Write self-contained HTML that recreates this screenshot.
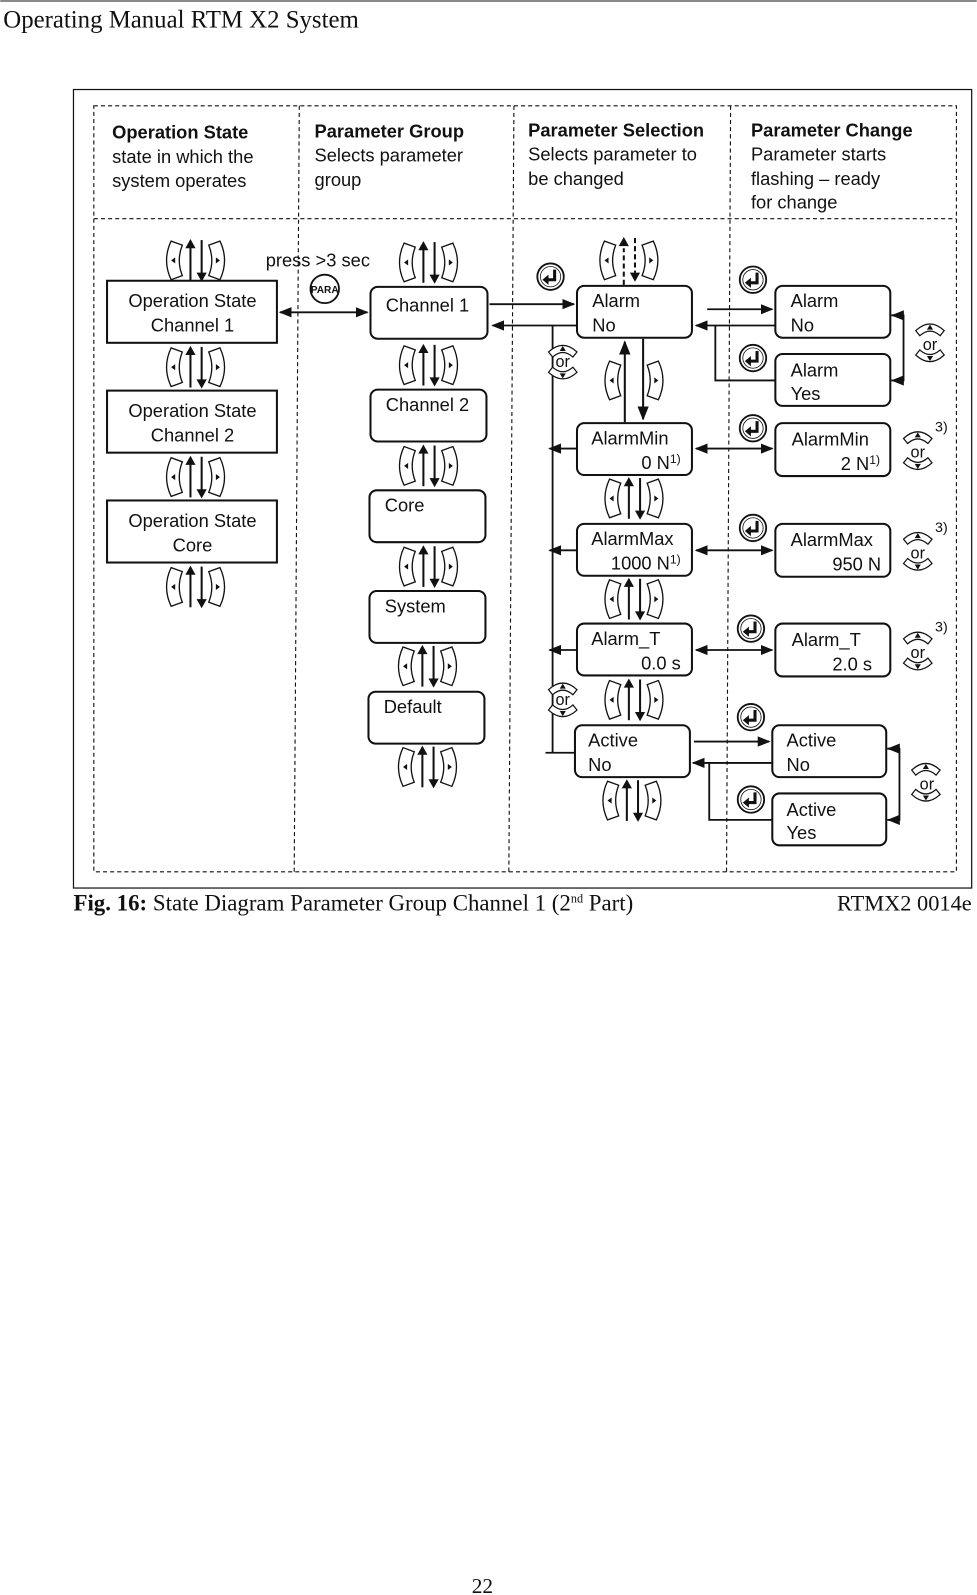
<!DOCTYPE html>
<html><head><meta charset="utf-8"><style>
html,body{margin:0;padding:0;background:#fff}
svg{display:block}
text{font-family:"Liberation Sans",sans-serif;fill:#111}
.s{font-family:"Liberation Serif",serif}
</style></head><body>
<svg width="977" height="1595" viewBox="0 0 960 1568" xmlns="http://www.w3.org/2000/svg">
<defs>
<marker id="ah" viewBox="0 0 10 10" refX="9" refY="5" markerWidth="7" markerHeight="7" orient="auto-start-reverse"><path d="M0,1 L10,5 L0,9 Z" fill="#111"/></marker>
<g id="lp"><path d="M-13,-15 Q-19,0 -13,15 L-24,19 Q-33,0 -24,-19 Z" fill="#fff" stroke="#111" stroke-width="1.3"/><path d="M-20,-3 L-24,0 L-20,3 Z" fill="#111"/></g>
<g id="rp"><path d="M13,-15 Q19,0 13,15 L24,19 Q33,0 24,-19 Z" fill="#fff" stroke="#111" stroke-width="1.3"/><path d="M20,-3 L24,0 L20,3 Z" fill="#111"/></g>
<g id="nav">
<use href="#lp"/><use href="#rp"/>
<line x1="-5" y1="20" x2="-5" y2="-14" stroke="#111" stroke-width="2"/>
<path d="M-10,-12 L-5,-21 L0,-12 Z" fill="#111"/>
<line x1="6" y1="-20" x2="6" y2="14" stroke="#111" stroke-width="2"/>
<path d="M1,12 L6,21 L11,12 Z" fill="#111"/>
</g>
<g id="ent"><circle r="13" fill="#fff" stroke="#111" stroke-width="1.8"/><circle r="10" fill="none" stroke="#111" stroke-width="0.8"/><path d="M4,-7 L4,3 L-3,3" fill="none" stroke="#111" stroke-width="3"/><path d="M-2,-2 L-8,3 L-2,8Z" fill="#111"/></g>
<g id="up"><path d="M-14,5 Q0,-8 14,5 L10,10 Q0,1 -10,10 Z" fill="#fff" stroke="#111" stroke-width="1.2"/><path d="M-3,4 L0,-1 L3,4Z" fill="#111"/></g>
<g id="dn"><path d="M-14,-5 Q0,8 14,-5 L10,-10 Q0,-1 -10,-10 Z" fill="#fff" stroke="#111" stroke-width="1.2"/><path d="M-3,-4 L0,1 L3,-4Z" fill="#111"/></g>
</defs>

<text x="3" y="27" class="s" font-size="24.4">Operating Manual RTM X2 System</text>
<line x1="0" y1="1" x2="960" y2="1" stroke="#111" stroke-width="1"/>

<rect x="72" y="88" width="883" height="785" fill="none" stroke="#111" stroke-width="1.2"/>
<g fill="none" stroke="#111" stroke-width="1.1" stroke-dasharray="4,3">
<rect x="92" y="104" width="848" height="753"/>
<line x1="92" y1="215" x2="940" y2="215"/>
<line x1="294" y1="104" x2="289" y2="857"/>
<line x1="505" y1="104" x2="500" y2="857"/>
<line x1="718" y1="104" x2="714" y2="857"/>
</g>

<g font-size="18">
<text x="110" y="136" font-weight="bold">Operation State</text>
<text x="110" y="160">state in which the</text>
<text x="110" y="184">system operates</text>
<text x="309" y="135" font-weight="bold">Parameter Group</text>
<text x="309" y="159">Selects parameter</text>
<text x="309" y="183">group</text>
<text x="519" y="134" font-weight="bold">Parameter Selection</text>
<text x="519" y="158">Selects parameter to</text>
<text x="519" y="182">be changed</text>
<text x="738" y="134" font-weight="bold">Parameter Change</text>
<text x="738" y="158">Parameter starts</text>
<text x="738" y="182">flashing – ready</text>
<text x="738" y="205">for change</text>
</g>

<g fill="#fff" stroke="#111" stroke-width="2">
<rect x="105" y="276" width="167" height="61"/>
<rect x="105" y="384" width="167" height="61"/>
<rect x="105" y="492" width="167" height="61"/>
</g>
<g font-size="18" text-anchor="middle">
<text x="189" y="302">Operation State</text><text x="189" y="326">Channel 1</text>
<text x="189" y="410">Operation State</text><text x="189" y="434">Channel 2</text>
<text x="189" y="518">Operation State</text><text x="189" y="542">Core</text>
</g>
<use href="#nav" x="192" y="256"/><use href="#nav" x="192" y="361"/><use href="#nav" x="192" y="469"/><use href="#nav" x="192" y="577"/>

<text x="261" y="262" font-size="18">press &gt;3 sec</text>
<circle cx="319" cy="284" r="14" fill="#fff" stroke="#111" stroke-width="1.8"/>
<text x="319" y="288" font-size="10" font-weight="bold" text-anchor="middle">PARA</text>
<line x1="275" y1="307" x2="361" y2="307" stroke="#111" stroke-width="1.8" marker-start="url(#ah)" marker-end="url(#ah)"/>

<g fill="#fff" stroke="#111" stroke-width="2">
<rect x="364" y="282" width="115" height="51" rx="7"/>
<rect x="364" y="383" width="114" height="51" rx="7"/>
<rect x="363" y="482" width="114" height="51" rx="7"/>
<rect x="363" y="581" width="114" height="51" rx="7"/>
<rect x="362" y="680" width="114" height="51" rx="7"/>
</g>
<g font-size="18">
<text x="379" y="306">Channel 1</text>
<text x="379" y="404">Channel 2</text>
<text x="378" y="503">Core</text>
<text x="378" y="602">System</text>
<text x="377" y="701">Default</text>
</g>
<use href="#nav" x="421" y="258"/><use href="#nav" x="421" y="359"/><use href="#nav" x="421" y="458"/><use href="#nav" x="421" y="557"/><use href="#nav" x="420" y="655"/><use href="#nav" x="420" y="754"/>

<g fill="#fff" stroke="#111" stroke-width="2">
<rect x="567" y="281" width="113" height="51" rx="7"/>
<rect x="567" y="416" width="113" height="51" rx="7"/>
<rect x="567" y="515" width="113" height="51" rx="7"/>
<rect x="567" y="613" width="113" height="51" rx="7"/>
<rect x="565" y="713" width="113" height="51" rx="7"/>
</g>
<g font-size="18">
<text x="582" y="302">Alarm</text><text x="582" y="326">No</text>
<text x="581" y="437">AlarmMin</text><text x="669" y="461" text-anchor="end">0 N<tspan font-size="12" dy="-6">1)</tspan></text>
<text x="581" y="536">AlarmMax</text><text x="669" y="560" text-anchor="end">1000 N<tspan font-size="12" dy="-6">1)</tspan></text>
<text x="581" y="634">Alarm_T</text><text x="669" y="658" text-anchor="end">0.0 s</text>
<text x="578" y="734">Active</text><text x="578" y="758">No</text>
</g>
<use href="#lp" x="618" y="256"/><use href="#rp" x="618" y="256"/>
<line x1="613" y1="280" x2="613" y2="244" stroke="#111" stroke-width="2" stroke-dasharray="5,3"/>
<path d="M608,242 L613,233 L618,242Z" fill="#111"/>
<line x1="624" y1="234" x2="624" y2="268" stroke="#111" stroke-width="2" stroke-dasharray="5,3"/>
<path d="M619,268 L624,277 L629,268Z" fill="#111"/>
<line x1="614" y1="415" x2="614" y2="336" stroke="#111" stroke-width="2" marker-end="url(#ah)"/>
<line x1="632" y1="333" x2="632" y2="412" stroke="#111" stroke-width="2" marker-end="url(#ah)"/>
<use href="#lp" x="623" y="374"/><use href="#rp" x="623" y="374"/>
<use href="#nav" x="623" y="490"/><use href="#nav" x="623" y="589"/><use href="#nav" x="623" y="688"/><use href="#nav" x="621" y="787"/>

<use href="#ent" x="541" y="272"/>
<line x1="481" y1="299" x2="564" y2="299" stroke="#111" stroke-width="1.8" marker-end="url(#ah)"/>
<line x1="567" y1="320" x2="484" y2="320" stroke="#111" stroke-width="1.8" marker-end="url(#ah)"/>
<line x1="543" y1="320" x2="543" y2="740" stroke="#111" stroke-width="1.8"/>
<line x1="567" y1="441" x2="540" y2="441" stroke="#111" stroke-width="1.8" marker-end="url(#ah)"/>
<line x1="567" y1="541" x2="540" y2="541" stroke="#111" stroke-width="1.8" marker-end="url(#ah)"/>
<line x1="567" y1="639" x2="540" y2="639" stroke="#111" stroke-width="1.8" marker-end="url(#ah)"/>
<line x1="565" y1="740" x2="536" y2="740" stroke="#111" stroke-width="1.8"/>
<use href="#up" x="553" y="341"/><text x="553" y="361" font-size="16" text-anchor="middle">or</text><use href="#dn" x="553" y="371"/>
<use href="#up" x="553" y="673"/><text x="553" y="693" font-size="16" text-anchor="middle">or</text><use href="#dn" x="553" y="703"/>

<g fill="#fff" stroke="#111" stroke-width="2">
<rect x="762" y="281" width="113" height="51" rx="7"/>
<rect x="762" y="348" width="113" height="51" rx="7"/>
<rect x="762" y="416" width="113" height="52" rx="7"/>
<rect x="762" y="515" width="113" height="52" rx="7"/>
<rect x="762" y="613" width="113" height="52" rx="7"/>
<rect x="759" y="713" width="112" height="51" rx="7"/>
<rect x="759" y="780" width="112" height="51" rx="7"/>
</g>
<g font-size="18">
<text x="777" y="302">Alarm</text><text x="777" y="326">No</text>
<text x="777" y="370">Alarm</text><text x="777" y="393">Yes</text>
<text x="778" y="438">AlarmMin</text><text x="865" y="462" text-anchor="end">2 N<tspan font-size="12" dy="-6">1)</tspan></text>
<text x="777" y="537">AlarmMax</text><text x="866" y="561" text-anchor="end">950 N</text>
<text x="778" y="635">Alarm_T</text><text x="857" y="659" text-anchor="end">2.0 s</text>
<text x="773" y="734">Active</text><text x="773" y="758">No</text>
<text x="773" y="802">Active</text><text x="773" y="825">Yes</text>
</g>
<use href="#ent" x="740" y="275"/><use href="#ent" x="740" y="352"/><use href="#ent" x="740" y="421"/><use href="#ent" x="740" y="519"/><use href="#ent" x="738" y="618"/><use href="#ent" x="738" y="705"/><use href="#ent" x="738" y="786"/>

<g stroke="#111" stroke-width="1.8" fill="none">
<line x1="695" y1="304" x2="759" y2="304" marker-end="url(#ah)"/>
<line x1="762" y1="320" x2="684" y2="320" marker-end="url(#ah)"/>
<polyline points="703,320 703,374 762,374"/>
<polyline points="876,310 888,310 888,374 876,374"/>
<line x1="882" y1="310" x2="877" y2="310" marker-end="url(#ah)"/>
<line x1="882" y1="374" x2="877" y2="374" marker-end="url(#ah)"/>
<line x1="684" y1="441" x2="759" y2="441" marker-start="url(#ah)" marker-end="url(#ah)"/>
<line x1="684" y1="541" x2="759" y2="541" marker-start="url(#ah)" marker-end="url(#ah)"/>
<line x1="684" y1="639" x2="759" y2="639" marker-start="url(#ah)" marker-end="url(#ah)"/>
<line x1="682" y1="729" x2="756" y2="729" marker-end="url(#ah)"/>
<line x1="759" y1="750" x2="681" y2="750" marker-end="url(#ah)"/>
<polyline points="697,750 697,806 759,806"/>
<polyline points="872,736 884,736 884,806 872,806"/>
<line x1="878" y1="736" x2="873" y2="736" marker-end="url(#ah)"/>
<line x1="878" y1="806" x2="873" y2="806" marker-end="url(#ah)"/>
</g>
<use href="#up" x="914" y="320"/><text x="914" y="344" font-size="16" text-anchor="middle">or</text><use href="#dn" x="914" y="354"/>
<use href="#up" x="902" y="426"/><text x="902" y="450" font-size="16" text-anchor="middle">or</text><use href="#dn" x="902" y="460"/>
<use href="#up" x="902" y="525"/><text x="902" y="549" font-size="16" text-anchor="middle">or</text><use href="#dn" x="902" y="559"/>
<use href="#up" x="902" y="623"/><text x="902" y="647" font-size="16" text-anchor="middle">or</text><use href="#dn" x="902" y="657"/>
<use href="#up" x="910" y="752"/><text x="911" y="776" font-size="16" text-anchor="middle">or</text><use href="#dn" x="910" y="786"/>
<g font-size="14"><text x="919" y="424">3)</text><text x="919" y="523">3)</text><text x="919" y="621">3)</text></g>

<text x="72" y="895" class="s" font-size="22.5"><tspan font-weight="bold">Fig. 16:</tspan> State Diagram Parameter Group Channel 1 (2<tspan font-size="12" dy="-8">nd</tspan><tspan dy="8"> Part)</tspan></text>
<text x="955" y="895" class="s" font-size="22" text-anchor="end">RTMX2 0014e</text>
<text x="474" y="1566" class="s" font-size="21" text-anchor="middle">22</text>
</svg>
</body></html>
